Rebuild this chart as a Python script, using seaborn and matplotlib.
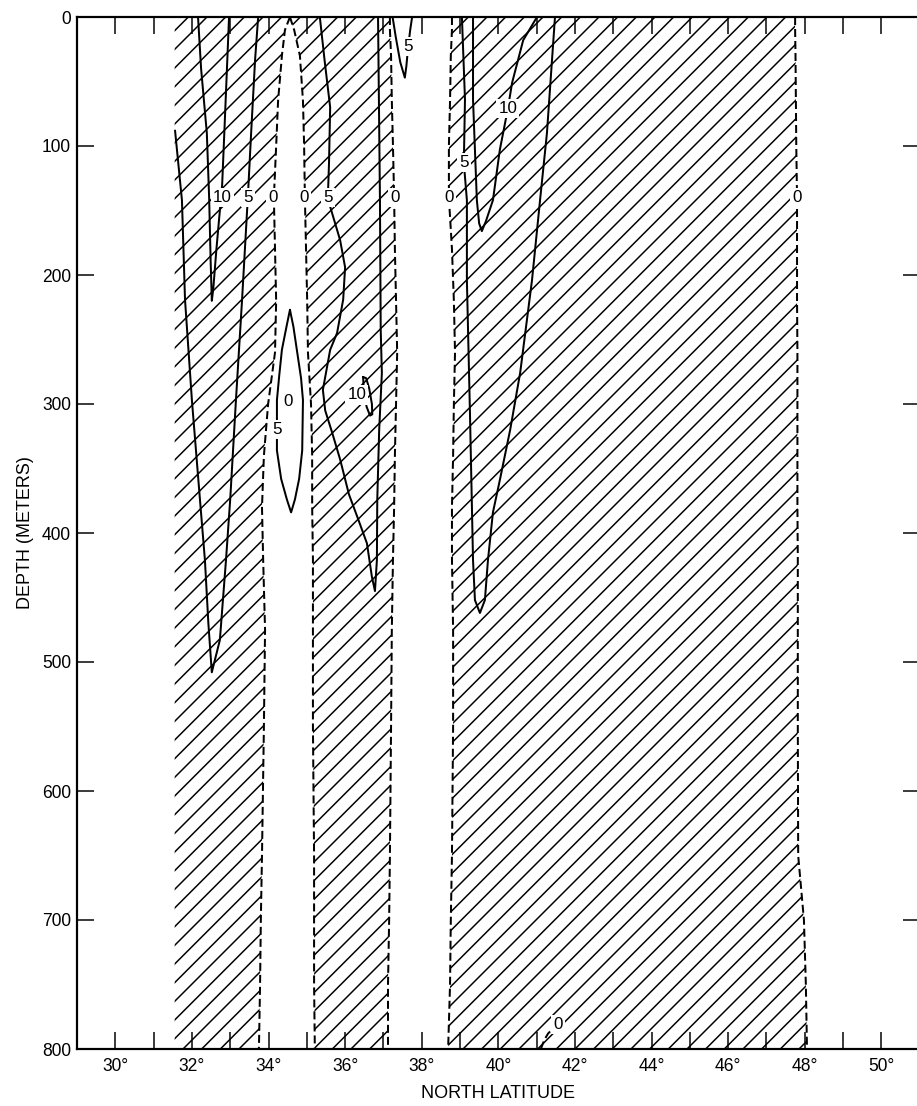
import numpy as np
import pandas as pd
import matplotlib
matplotlib.use("Agg")
import matplotlib.pyplot as plt
import seaborn as sns

# ---------------- data (latitude in degrees N, depth in metres) ----------------
bound_depth = [0, 10, 30, 65, 100, 140, 180, 220, 260, 300, 340, 380, 420, 475, 550, 650, 700, 750, 800]
# left edge of data coverage (hatched region A starts here)
edge_A_left = [31.55] * 19
zero_A_right = [34.56, 34.43, 34.35, 34.25, 34.20, 34.14, 34.17, 34.20, 34.17, 33.99, 33.88, 33.83, 33.86, 33.91, 33.88, 33.83, 33.80, 33.78, 33.75]
zero_B_left = [34.56, 34.67, 34.82, 34.90, 34.93, 34.95, 34.98, 35.01, 35.03, 35.11, 35.14, 35.14, 35.16, 35.16, 35.16, 35.19, 35.19, 35.19, 35.21]
zero_B_right = [37.17, 37.17, 37.20, 37.22, 37.25, 37.28, 37.30, 37.33, 37.36, 37.33, 37.30, 37.28, 37.25, 37.22, 37.20, 37.17, 37.15, 37.12, 37.12]
zero_C_left = [38.79, 38.79, 38.76, 38.74, 38.71, 38.71, 38.79, 38.84, 38.87, 38.84, 38.82, 38.79, 38.79, 38.82, 38.82, 38.79, 38.76, 38.74, 38.69]
zero_C_right = [47.75, 47.75, 47.76, 47.77, 47.78, 47.80, 47.80, 47.80, 47.81, 47.81, 47.81, 47.81, 47.82, 47.82, 47.82, 47.83, 47.98, 48.03, 48.06]

# solid isolines
c10_A_lat = [32.16, 32.24, 32.39, 32.45, 32.49, 32.52, 32.56, 32.64, 32.73, 32.79, 32.86, 32.97]
c10_A_dep = [0, 40, 90, 140, 190, 220, 210, 180, 150, 130, 80, 0]
c5_A_lat = [31.56, 31.74, 31.82, 32.00, 32.21, 32.34, 32.43, 32.52, 32.73, 32.89, 33.00, 33.15, 33.31, 33.46, 33.55, 33.65, 33.73]
c5_A_dep = [88, 142, 219, 297, 374, 421, 470, 508, 483, 421, 374, 297, 219, 140, 88, 33, 0]
c5_lens_lat = [34.56, 34.65, 34.74, 34.85, 34.90, 34.88, 34.80, 34.69, 34.59, 34.48, 34.33, 34.22, 34.22, 34.28, 34.35, 34.47, 34.56]
c5_lens_dep = [227, 240, 258, 280, 297, 336, 358, 374, 384, 374, 358, 336, 297, 278, 258, 240, 227]
c5_B_lat = [35.34, 35.47, 35.61, 35.58, 35.55, 35.61, 35.87, 36.00, 35.95, 35.79, 35.61, 35.42, 35.48, 35.66, 35.87,
            36.10, 36.35, 36.57, 36.70, 36.78, 36.83, 36.84, 36.89, 36.96, 36.93, 36.91, 36.86]
c5_B_dep = [0, 35, 70, 113, 140, 147, 173, 194, 219, 245, 258, 289, 305, 322, 343,
            370, 390, 408, 434, 445, 421, 374, 320, 276, 243, 142, 0]
c10_B_lat = [36.47, 36.55, 36.63, 36.70, 36.71, 36.65, 36.56, 36.49, 36.47]
c10_B_dep = [279, 280, 288, 300, 308, 309, 302, 290, 279]
c5_gap_lat = [37.24, 37.32, 37.44, 37.56, 37.60, 37.64, 37.70, 37.75]
c5_gap_dep = [0, 15, 35, 47, 38, 25, 10, 0]
c5_C_lat = [39.05, 39.13, 39.10, 39.18, 39.18, 39.26, 39.34, 39.39, 39.52, 39.65, 39.73, 39.86, 40.04, 40.31, 40.57, 40.88, 41.09, 41.27, 41.48]
c5_C_dep = [0, 64, 113, 142, 204, 307, 421, 452, 462, 452, 421, 384, 359, 320, 276, 204, 142, 90, 0]
c10_C_lat = [39.34, 39.34, 39.44, 39.50, 39.57, 39.68, 39.86, 40.04, 40.25, 40.36, 40.65, 41.01]
c10_C_dep = [0, 64, 142, 160, 166, 158, 142, 103, 71, 51, 18, 0]
zero_bottom_lat = [41.11, 41.20, 41.30, 41.40]
zero_bottom_dep = [800, 793, 788, 785]

# contour labels: (text, lat, depth)
label_text = ["10", "5", "0", "0", "5", "0", "0", "5", "10", "0", "5", "5", "0", "10", "0"]
label_lat = [32.79, 33.46, 34.12, 34.93, 35.55, 37.30, 38.71, 39.10, 40.25, 47.80, 37.64, 34.22, 34.51, 36.31, 41.56]
label_dep = [140, 140, 140, 140, 140, 140, 140, 113, 71, 140, 23, 320, 298, 293, 781]

x_ticks = [30, 32, 34, 36, 38, 40, 42, 44, 46, 48, 50]
x_ticklabels = [f"{v}\u00b0" for v in x_ticks]
y_ticks = [0, 100, 200, 300, 400, 500, 600, 700, 800]

# ---------------- style ----------------
DPI = 112
PT = 72 / DPI  # points per pixel
sns.set_theme(style="ticks")
plt.rcParams["font.family"] = ["Liberation Sans", "DejaVu Sans"]
plt.rcParams["hatch.linewidth"] = 1.5 * PT
plt.rcParams["hatch.color"] = "black"
for key in ["text.color", "axes.labelcolor", "xtick.color", "ytick.color", "xtick.labelcolor", "ytick.labelcolor"]:
    plt.rcParams[key] = "black"

fig = plt.figure(figsize=(917 / DPI, 1106 / DPI), dpi=DPI)
ax = fig.add_axes([77 / 917, 1 - 1049 / 1106, (919.6 - 77) / 917, (1049 - 17) / 1106])

# hatched (positive) regions
for lo, hi in [(edge_A_left, zero_A_right), (zero_B_left, zero_B_right), (zero_C_left, zero_C_right)]:
    ax.fill_betweenx(bound_depth, lo, hi, facecolor="none", edgecolor="black", hatch="//", linewidth=0, zorder=1)

LW = 2.0 * PT
dash = (0, (4.0, 2.0))
for xs in [zero_A_right, zero_B_left, zero_B_right, zero_C_left, zero_C_right]:
    sns.lineplot(x=xs, y=bound_depth, sort=False, estimator=None, color="black", linewidth=LW,
                 linestyle=dash, ax=ax, zorder=2)
sns.lineplot(x=zero_bottom_lat, y=zero_bottom_dep, sort=False, estimator=None, color="black",
             linewidth=LW, linestyle=dash, ax=ax, zorder=2)

for xs, ys in [(c10_A_lat, c10_A_dep), (c5_A_lat, c5_A_dep), (c5_lens_lat, c5_lens_dep),
               (c5_B_lat, c5_B_dep), (c10_B_lat, c10_B_dep), (c5_gap_lat, c5_gap_dep),
               (c5_C_lat, c5_C_dep), (c10_C_lat, c10_C_dep)]:
    sns.lineplot(x=xs, y=ys, sort=False, estimator=None, color="black", linewidth=LW, ax=ax, zorder=2)

for t, x, y in zip(label_text, label_lat, label_dep):
    ax.text(x, y, t, ha="center", va="center", fontsize=17 * PT, color="black", zorder=4,
            bbox=dict(boxstyle="square,pad=0.12", fc="white", ec="none"))

ax.set_xlim(29, 51)
ax.set_ylim(800, 0)
ax.set_xticks(x_ticks)
ax.set_xticklabels(x_ticklabels)
ax.set_xticks(np.arange(31, 50, 2), minor=True)
ax.set_yticks(y_ticks)
ax.set_yticklabels([str(v) for v in y_ticks])

for which in ["major", "minor"]:
    ax.tick_params(axis="both", which=which, direction="in", length=17 * PT, width=1.5 * PT,
                   top=True, right=True, color="black")
ax.tick_params(axis="x", which="major", labelsize=17.5 * PT, pad=9 * PT, labelcolor="black")
ax.tick_params(axis="y", which="major", labelsize=17.5 * PT, pad=6 * PT, labelcolor="black")

for s in ax.spines.values():
    s.set_linewidth(2.2 * PT)
    s.set_color("black")
    s.set_visible(True)

ax.set_xlabel("NORTH LATITUDE", fontsize=18 * PT, labelpad=10 * PT, color="black")
ax.set_ylabel("DEPTH (METERS)", fontsize=18 * PT, labelpad=8 * PT, color="black")
ax.grid(False)
ax.set_facecolor("white")
if ax.get_legend() is not None:
    ax.get_legend().remove()

fig.savefig("out.png", dpi=DPI, facecolor="white")
